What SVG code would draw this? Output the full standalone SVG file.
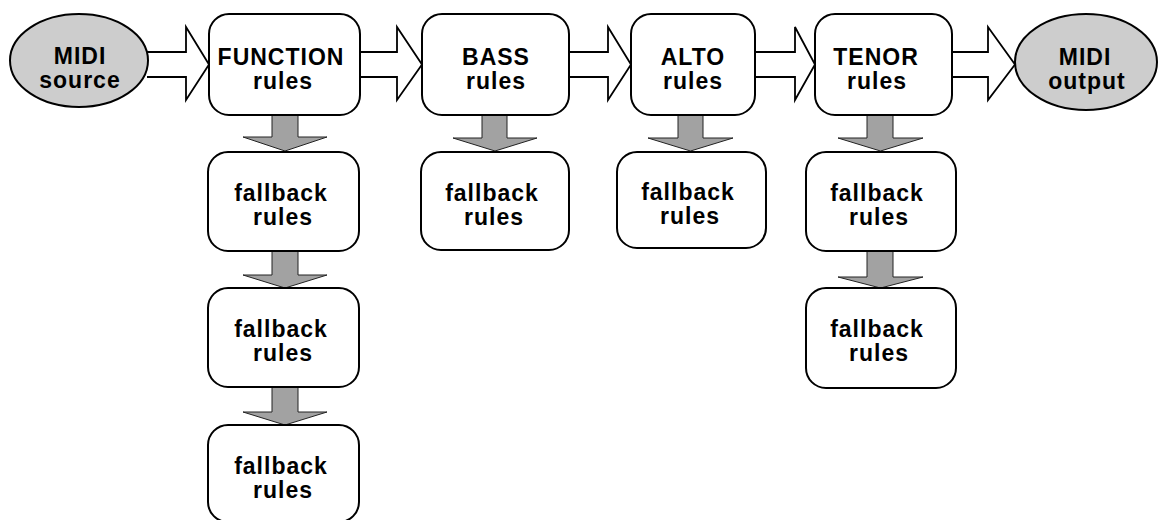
<svg xmlns="http://www.w3.org/2000/svg" width="1158" height="520" viewBox="0 0 1158 520">
<style>
.box{fill:#fff;stroke:#000;stroke-width:2}
.ell{fill:#cdcdcd;stroke:#000;stroke-width:2}
.ha{fill:#fff;stroke:#000;stroke-width:1.8;stroke-linejoin:miter}
.da{fill:#a2a2a2;stroke:#222;stroke-width:1}
text{font-family:"Liberation Sans",Arial,sans-serif;font-weight:bold;font-size:23px;letter-spacing:1px;text-anchor:middle;fill:#000}
</style>
<rect width="1158" height="520" fill="#fff"/>
<g id="connectors">
<path class="ha" d="M147,52 H186 V27 L209,64.5 L186,100 V77 H147"/>
<path class="ha" d="M360,52 H397 V27 L422,64.5 L397,100 V77 H360"/>
<path class="ha" d="M569,52 H608 V27 L631,64.5 L608,100 V77 H569"/>
<path class="ha" d="M755,52 H795 V27 L815,64.5 L795,100 V77 H755"/>
<path class="ha" d="M952,52 H988 V27 L1015,64.5 L988,100 V77 H952"/>
<path class="da" d="M272,115 H298 V137 H327 L285,151 L243,137 H272 Z"/>
<path class="da" d="M272,251 H298 V275 H327 L285,288 L243,275 H272 Z"/>
<path class="da" d="M272,387 H298 V412 H327 L285,425 L243,412 H272 Z"/>
<path class="da" d="M482,115 H507 V138 H537 L495,151 L453,138 H482 Z"/>
<path class="da" d="M678,115 H703 V138 H733 L690.5,151 L648,138 H678 Z"/>
<path class="da" d="M867,115 H893 V138 H923 L880.5,151 L838,138 H867 Z"/>
<path class="da" d="M867,251 H893 V277 H923 L880.5,288 L838,277 H867 Z"/>
</g>
<g id="midi-source"><ellipse class="ell" cx="79" cy="60.5" rx="69" ry="46.5"/><text x="80" y="64">MIDI</text><text x="80" y="88">source</text></g>
<g id="function"><rect class="box" x="209" y="14" width="151" height="101" rx="20"/><text x="281" y="65">FUNCTION</text><text x="283" y="89">rules</text></g>
<g id="bass"><rect class="box" x="422" y="14" width="147" height="101" rx="20"/><text x="496" y="65">BASS</text><text x="496" y="89">rules</text></g>
<g id="alto"><rect class="box" x="631" y="14" width="124" height="101" rx="20"/><text x="693" y="65">ALTO</text><text x="693" y="89">rules</text></g>
<g id="tenor"><rect class="box" x="815" y="14" width="137" height="101" rx="20"/><text x="876" y="65">TENOR</text><text x="877" y="89">rules</text></g>
<g id="midi-output"><ellipse class="ell" cx="1086" cy="62" rx="71" ry="48"/><text x="1085" y="65">MIDI</text><text x="1087" y="89">output</text></g>
<g id="function-fallback-1"><rect class="box" x="208" y="152" width="151" height="99" rx="20"/><text x="281" y="201">fallback</text><text x="283" y="225">rules</text></g>
<g id="function-fallback-2"><rect class="box" x="208" y="288" width="151" height="99" rx="20"/><text x="281" y="337">fallback</text><text x="283" y="361">rules</text></g>
<g id="function-fallback-3"><rect class="box" x="208" y="425" width="151" height="97" rx="20"/><text x="281" y="474">fallback</text><text x="283" y="498">rules</text></g>
<g id="bass-fallback"><rect class="box" x="421" y="152" width="148" height="98" rx="20"/><text x="492" y="201">fallback</text><text x="494" y="225">rules</text></g>
<g id="alto-fallback"><rect class="box" x="617" y="152" width="149" height="96" rx="20"/><text x="688" y="200">fallback</text><text x="690" y="224">rules</text></g>
<g id="tenor-fallback-1"><rect class="box" x="806" y="152" width="150" height="99" rx="20"/><text x="877" y="201">fallback</text><text x="879" y="225">rules</text></g>
<g id="tenor-fallback-2"><rect class="box" x="806" y="288" width="150" height="100" rx="20"/><text x="877" y="337">fallback</text><text x="879" y="361">rules</text></g>
</svg>
